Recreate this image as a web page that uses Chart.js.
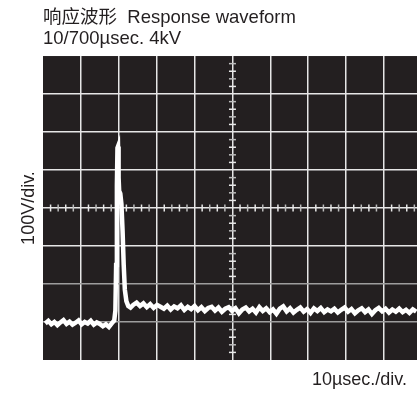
<!DOCTYPE html>
<html>
<head>
<meta charset="utf-8">
<script src="https://cdn.jsdelivr.net/npm/chart.js@4"></script>
<style>
html,body{margin:0;padding:0;background:#fff;}
canvas{display:block;}
</style>
</head>
<body>
<canvas id="c" width="417" height="394"></canvas>
<script>
// Title lines and axis labels
const titleLines = ["响应波形  Response waveform", "10/700µsec. 4kV"];
const yLabel = "100V/div.";
const xLabel = "10µsec./div.";

// Scale divisions (10 µs/div horizontally, 100 V/div vertically)
const xDivTicks = [10, 20, 30, 40, 50, 60, 70, 80, 90];
const yDivTicks = [-300, -200, -100, 0, 100, 200, 300];

// Waveform samples: time in µs, voltage in V (relative to screen centre)
const timeUs = [
  0.6, 1.4, 2.2, 3.0, 3.8, 4.6, 5.4, 6.2, 7.0, 7.8, 8.6, 9.4, 10.2, 11.0, 11.8, 12.6, 13.4, 14.2, 15.0, 15.8, 16.6, 17.4, 18.2, 18.8,
  19.1, 19.3, 19.5, 19.65, 19.8, 19.95, 20.1, 20.4, 20.7, 21.0, 21.3, 21.6, 22.0, 22.5, 23.1,
  23.8, 24.7, 25.6, 26.5, 27.4, 28.3, 29.2, 30.1, 31.0, 31.9, 32.8, 33.7, 34.6, 35.5, 36.4, 37.3, 38.2, 39.1, 40.0, 40.9,
  41.8, 42.7, 43.6, 44.5, 45.4, 46.3, 47.2, 48.1, 49.0, 49.9, 50.8, 51.7, 52.6, 53.5, 54.4, 55.3, 56.2, 57.1, 58.0, 58.9,
  59.8, 60.7, 61.6, 62.5, 63.4, 64.3, 65.2, 66.1, 67.0, 67.9, 68.8, 69.7, 70.6, 71.5, 72.4, 73.3, 74.2, 75.1, 76.0, 76.9,
  77.8, 78.7, 79.6, 80.5, 81.4, 82.3, 83.2, 84.1, 85.0, 85.9, 86.8, 87.7, 88.6, 89.5, 90.4, 91.3, 92.2, 93.1, 94.0, 94.9,
  95.8, 96.7, 97.6, 98.5
];
const voltageV = [
  -304, -297, -306, -300, -308, -301, -295, -305, -299, -307, -302, -296, -306, -300, -304, -297, -307, -301, -305, -311, -306, -313, -303, -296,
  -270, -150, 60, 158, 162, 80, 45, 38, 10, -60, -150, -215, -245, -258, -262,
  -255, -249, -258, -251, -261, -253, -263, -255, -260, -265, -257, -267, -259, -264, -256, -268, -260, -266, -258, -269,
  -261, -271, -263, -260, -270, -262, -273, -265, -261, -271, -264, -277, -267, -262, -272, -265, -275, -261, -271, -264,
  -274, -267, -278, -265, -259, -272, -264, -275, -268, -262, -273, -266, -276, -264, -271, -263, -274, -267, -272, -265,
  -275, -268, -262, -273, -266, -277, -269, -264, -274, -267, -279, -269, -263, -272, -265, -275, -267, -273, -265, -274,
  -268, -276, -267, -273
];

const FONT = "'Liberation Sans', Arial, Helvetica, 'Noto Sans CJK SC', sans-serif";
const TEXT = '#231f20';
const SCREEN = '#231f20';

const screenBg = {
  id: 'screenBg',
  beforeDraw(chart) {
    const {ctx, chartArea: a} = chart;
    ctx.save();
    ctx.fillStyle = SCREEN;
    ctx.fillRect(a.left, a.top, a.right - a.left, a.bottom - a.top);
    ctx.restore();
  }
};

// minor graduation marks on the centre cross-hair (5 per division)
const crossTicks = {
  id: 'crossTicks',
  beforeDatasetsDraw(chart) {
    const {ctx, scales: {x, y}} = chart;
    const y0 = y.getPixelForValue(0);
    const x0 = x.getPixelForValue(50);
    ctx.save();
    ctx.lineWidth = 1.5;
    let i = 0;
    for (let t = 2; t < x.max; t += 2) {
      if (Math.abs(t % 10) < 1e-6) continue;
      const px = x.getPixelForValue(t);
      ctx.strokeStyle = (i++ % 2) ? '#bdbdbd' : '#e8e8e8';
      ctx.beginPath(); ctx.moveTo(px, y0 - 3.5); ctx.lineTo(px, y0 + 3.5); ctx.stroke();
    }
    i = 0;
    for (let v = -380; v < 400; v += 20) {
      if (v % 100 === 0) continue;
      const py = y.getPixelForValue(v);
      ctx.strokeStyle = (i++ % 2) ? '#bdbdbd' : '#e8e8e8';
      ctx.beginPath(); ctx.moveTo(x0 - 3.5, py); ctx.lineTo(x0 + 3.5, py); ctx.stroke();
    }
    ctx.restore();
  }
};

new Chart(document.getElementById('c'), {
  type: 'line',
  data: {
    datasets: [{
      data: timeUs.map((t, i) => ({x: t, y: voltageV[i]})),
      borderColor: '#ffffff',
      borderWidth: 4.5,
      pointRadius: 0,
      tension: 0,
      fill: false
    }]
  },
  options: {
    responsive: false,
    animation: false,
    events: [],
    layout: {padding: 0},
    plugins: {
      legend: {display: false},
      tooltip: {enabled: false},
      title: {
        display: true,
        text: titleLines,
        align: 'start',
        fullSize: false,
        color: TEXT,
        font: {family: FONT, size: 18.5, weight: 'normal', lineHeight: 1.12},
        padding: {top: 7.6, bottom: 7}
      }
    },
    scales: {
      x: {
        type: 'linear',
        min: 0,
        max: 98.7,
        afterBuildTicks(s) { s.ticks = xDivTicks.map(v => ({value: v})); },
        afterFit(s) { s.height = 34; },
        ticks: {display: false},
        border: {display: false},
        grid: {
          drawTicks: false,
          lineWidth: 1.5,
          color: '#e6e6e6'
        },
        title: {
          display: true,
          text: xLabel + '  ',
          align: 'end',
          color: TEXT,
          font: {family: FONT, size: 18, weight: 'normal'},
          padding: {top: 0, bottom: 2.7}
        }
      },
      y: {
        type: 'linear',
        min: -400,
        max: 400,
        afterBuildTicks(s) { s.ticks = yDivTicks.map(v => ({value: v})); },
        afterFit(s) { s.width = 43; },
        ticks: {display: false},
        border: {display: false},
        grid: {
          drawTicks: false,
          lineWidth: 1.5,
          color: (c) => (c.tick && (c.tick.value === -200 || c.tick.value === -300)) ? '#9d9d9d' : '#e6e6e6'
        },
        title: {
          display: true,
          text: yLabel,
          color: TEXT,
          font: {family: FONT, size: 18, weight: 'normal'},
          padding: {top: 18.5, bottom: 0}
        }
      }
    }
  },
  plugins: [screenBg, crossTicks]
});
</script>
</body>
</html>
